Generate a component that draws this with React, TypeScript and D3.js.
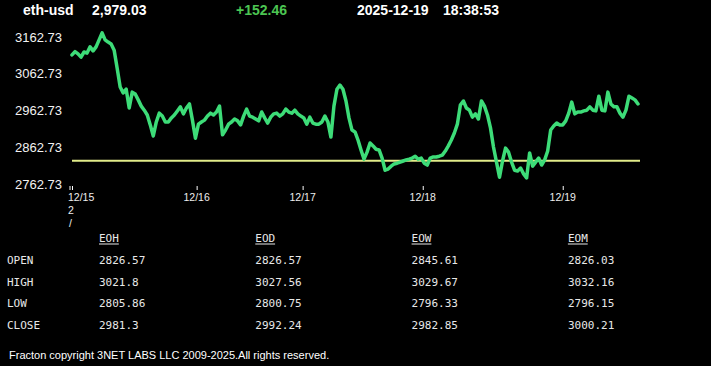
import React from "react";
import * as d3 from "d3";

const symbol = "eth-usd";
const lastPrice = "2,979.03";
const change = "+152.46";
const dateStr = "2025-12-19";
const timeStr = "18:38:53";
const prevClose = 2826.57;

const yTickValues = [3162.73, 3062.73, 2962.73, 2862.73, 2762.73];

const dayTicks = [
  { label: "12/15", idx: 0 },
  { label: "12/16", idx: 41.4 },
  { label: "12/17", idx: 76.6 },
  { label: "12/18", idx: 116.5 },
  { label: "12/19", idx: 163.0 },
];

const prices = [
  3114, 3123, 3117, 3108, 3122, 3119, 3136, 3125, 3136, 3155,
  3174, 3155, 3149, 3144, 3127, 3078, 3027, 3011, 3021, 2970,
  3013, 3008, 2992, 2975, 2964, 2951, 2924, 2894, 2932, 2956,
  2948, 2932, 2932, 2943, 2951, 2962, 2973, 2954, 2970, 2981,
  2937, 2888, 2926, 2932, 2937, 2948, 2956, 2951, 2959, 2975,
  2897, 2910, 2926, 2932, 2940, 2935, 2924, 2948, 2967, 2948,
  2945, 2940, 2935, 2959, 2943, 2929, 2945, 2954, 2956, 2948,
  2954, 2967, 2959, 2956, 2964, 2954, 2948, 2943, 2926, 2945,
  2929, 2926, 2926, 2932, 2948, 2932, 2891, 2975, 3021, 3032,
  3021, 2989, 2943, 2910, 2905, 2883, 2856, 2831, 2850, 2875,
  2867, 2858, 2856, 2834, 2801, 2804, 2812, 2818, 2820, 2823,
  2826, 2829, 2831, 2834, 2839, 2831, 2834, 2820, 2815, 2834,
  2837, 2837, 2839, 2842, 2853, 2867, 2883, 2902, 2926, 2978,
  2989, 2970, 2964, 2945, 2954, 2940, 2989, 2975, 2951, 2916,
  2864, 2823, 2782, 2826, 2861, 2850, 2823, 2801, 2799, 2807,
  2791, 2780, 2848, 2812, 2823, 2834, 2815, 2829, 2853, 2910,
  2921, 2929, 2924, 2924, 2935, 2956, 2986, 2954, 2959, 2959,
  2962, 2964, 2973, 2964, 2962, 3002, 2964, 2962, 3013, 2981,
  2973, 2973, 2956, 2945, 2964, 3002, 2997, 2992, 2981,
];

const tableCols = ["EOH", "EOD", "EOW", "EOM"];
const tableRows = ["OPEN", "HIGH", "LOW", "CLOSE"];
const openVals = ["2826.57", "2826.57", "2845.61", "2826.03"];
const highVals = ["3021.8", "3027.56", "3029.67", "3032.16"];
const lowVals = ["2805.86", "2800.75", "2796.33", "2796.15"];
const closeVals = ["2981.3", "2992.24", "2982.85", "3000.21"];
const tableVals = [openVals, highVals, lowVals, closeVals];

const footer = "Fracton copyright 3NET LABS LLC 2009-2025.All rights reserved.";

const W = 711;
const H = 366;
const sans = "'Liberation Sans', Arial, sans-serif";
const mono = "'DejaVu Sans Mono', monospace";

export default function App() {
  const x = d3.scaleLinear().domain([0, prices.length - 1]).range([72, 638]);
  const y = d3.scaleLinear().domain([2762.73, 3162.73]).range([184.3, 37]);
  const line = d3
    .line<number>()
    .x((_, i) => x(i))
    .y((d) => y(d));
  const path = line(prices) || "";

  const colX = (i: number) => 99 + i * 156.3;
  const rowY = (i: number) => 264 + i * 21.5;

  return (
    <div style={{ position: "fixed", left: 0, top: 0, width: W, height: H, background: "#000" }}>
      <svg width={W} height={H} style={{ display: "block", background: "#000" }}>
        {/* header */}
        <g fontFamily={sans} fontWeight="bold" fontSize={14}>
          <text x={23} y={14.5} fill="#fff">{symbol}</text>
          <text x={92} y={14.5} fill="#fff">{lastPrice}</text>
          <text x={236} y={14.5} fill="#4cc552">{change}</text>
          <text x={357} y={14.5} fill="#fff">{dateStr}</text>
          <text x={443} y={14.5} fill="#fff">{timeStr}</text>
        </g>

        {/* y axis labels */}
        <g fontFamily={sans} fontSize={13} fill="#f2f2f2" textAnchor="end">
          {yTickValues.map((v) => (
            <text key={v} x={62} y={y(v) + 4.5}>
              {v.toFixed(2)}
            </text>
          ))}
        </g>

        {/* reference line */}
        <line x1={x(0)} x2={x(prices.length - 1) + 2} y1={y(prevClose)} y2={y(prevClose)} stroke="#e2ec8a" strokeWidth={2} />

        {/* price line */}
        <path d={path} fill="none" stroke="#3ddc78" strokeWidth={3.5} strokeLinejoin="round" strokeLinecap="round" />

        {/* x ticks */}
        <g stroke="#fff" strokeWidth={1}>
          <line x1={x(0) - 2} x2={x(0) - 2} y1={186} y2={190} />
          {dayTicks.map((t) => (
            <line key={t.label} x1={x(t.idx) + 0.5} x2={x(t.idx) + 0.5} y1={186} y2={190} />
          ))}
        </g>
        <g fontFamily={sans} fontSize={10.5} fill="#eee">
          {dayTicks.map((t, i) => (
            <text key={t.label} x={i === 0 ? x(t.idx) - 4 : x(t.idx)} y={201} textAnchor={i === 0 ? "start" : "middle"}>
              {t.label}
            </text>
          ))}
          <text x={x(0) - 4} y={214}>2</text>
          <text x={x(0) - 3} y={226.5}>/</text>
        </g>

        {/* table */}
        <g fontFamily={mono} fontSize={11} fill="#e8e8e8">
          {tableCols.map((c, i) => (
            <g key={c}>
              <text x={colX(i)} y={242}>{c}</text>
              <line x1={colX(i)} x2={colX(i) + c.length * 6.6} y1={244} y2={244} stroke="#e8e8e8" strokeWidth={1} />
            </g>
          ))}
          {tableRows.map((r, ri) => (
            <g key={r}>
              <text x={7} y={rowY(ri)}>{r}</text>
              {tableVals[ri].map((v, ci) => (
                <text key={ci} x={colX(ci)} y={rowY(ri)}>{v}</text>
              ))}
            </g>
          ))}
        </g>

        {/* footer */}
        <text x={9} y={359} fontFamily={sans} fontSize={11} fill="#fff">
          {footer}
        </text>
      </svg>
    </div>
  );
}
